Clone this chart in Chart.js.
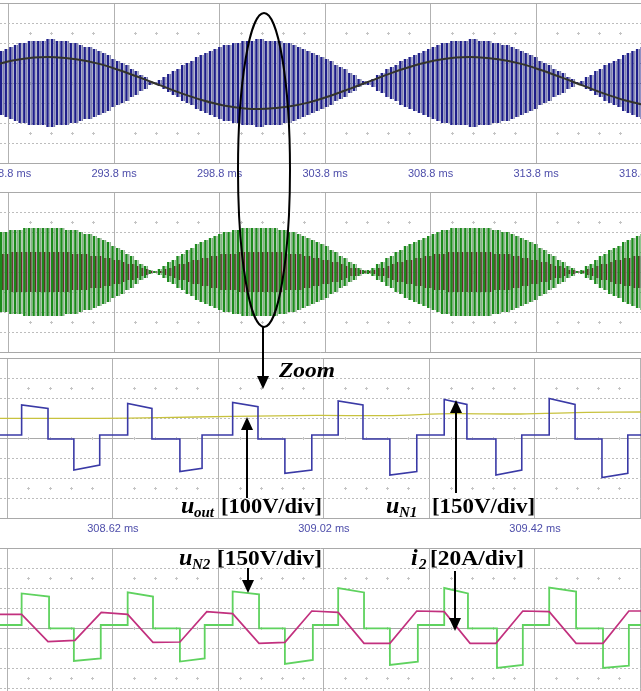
<!DOCTYPE html>
<html>
<head>
<meta charset="utf-8">
<script src="https://cdn.jsdelivr.net/npm/chart.js@4.4.0/dist/chart.umd.min.js"></script>
<style>
html, body { margin: 0; padding: 0; background: #fff; overflow: hidden; }
#wrap { position: relative; width: 641px; height: 691px; overflow: hidden; }
#wrap canvas { position: absolute; left: 0; }
#notes { position: absolute; left: 0; top: 0; }
</style>
</head>
<body>
<div id="wrap">
<canvas id="c1" width="641" height="185" style="top:0px"></canvas>
<canvas id="c2" width="641" height="166" style="top:189px"></canvas>
<canvas id="c3" width="641" height="185" style="top:355px"></canvas>
<canvas id="c4" width="641" height="166" style="top:545px"></canvas>
<svg id="notes" width="641" height="691" font-family="Liberation Serif" font-weight="bold" fill="#000">
  <ellipse cx="264" cy="170" rx="26" ry="157" fill="none" stroke="#000" stroke-width="2"/>
  <line x1="263" y1="327" x2="263" y2="378" stroke="#000" stroke-width="2"/>
  <polygon points="257,376 269,376 263,389"/>
  <text x="279" y="377" font-size="21" font-style="italic" textLength="56" lengthAdjust="spacingAndGlyphs">Zoom</text>

  <line x1="247" y1="498" x2="247" y2="428" stroke="#000" stroke-width="2"/>
  <polygon points="241,430 253,430 247,417"/>
  <text x="181" y="513" font-size="24" font-style="italic">u</text>
  <text x="194" y="517" font-size="15" font-style="italic">out</text>
  <text x="221" y="513" font-size="21" textLength="101" lengthAdjust="spacingAndGlyphs">[100V/div]</text>

  <line x1="456" y1="493" x2="456" y2="411" stroke="#000" stroke-width="2"/>
  <polygon points="450,413 462,413 456,400"/>
  <text x="386" y="513" font-size="24" font-style="italic">u</text>
  <text x="399" y="517" font-size="15" font-style="italic">N1</text>
  <text x="432" y="513" font-size="21" textLength="103" lengthAdjust="spacingAndGlyphs">[150V/div]</text>

  <line x1="248" y1="568" x2="248" y2="582" stroke="#000" stroke-width="2"/>
  <polygon points="242,580 254,580 248,593"/>
  <text x="179" y="565" font-size="24" font-style="italic">u</text>
  <text x="192" y="569" font-size="15" font-style="italic">N2</text>
  <text x="217" y="565" font-size="21" textLength="105" lengthAdjust="spacingAndGlyphs">[150V/div]</text>

  <line x1="455" y1="571" x2="455" y2="620" stroke="#000" stroke-width="2"/>
  <polygon points="449,618 461,618 455,631"/>
  <text x="411" y="565" font-size="24" font-style="italic">i</text>
  <text x="419" y="569" font-size="15" font-style="italic">2</text>
  <text x="430" y="565" font-size="21" textLength="94" lengthAdjust="spacingAndGlyphs">[20A/div]</text>
</svg>
</div>
<script>
// ---- 30 ms views (panels 1 and 2), values in divisions ----
var stripeStart = 288.45;   // ms, first carrier stripe
var stripeStep = 0.22;      // ms between stripes on the scope screen

var uN1Env = [1.6,1.7,1.8,1.9,2.0,2.0,2.1,2.1,2.1,2.1, 2.2,2.2,2.1,2.1,2.1,2.0,2.0,1.9,1.8,1.8,
  1.7,1.6,1.5,1.4,1.2,1.1,1.0,0.9,0.7,0.6, 0.4,0.3,0.1,0.05,0.15,0.3,0.45,0.6,0.7,0.9,
  1.0,1.1,1.3,1.4,1.5,1.6,1.7,1.8,1.9,1.9, 2.0,2.0,2.1,2.1,2.1,2.2,2.2,2.1,2.1,2.1,
  2.1,2.0,2.0,1.9,1.8,1.7,1.6,1.5,1.4,1.3, 1.2,1.1,0.9,0.8,0.7,0.5,0.4,0.2,0.1,0.1,
  0.2,0.4,0.5,0.7,0.8,0.9,1.1,1.2,1.3,1.4, 1.5,1.6,1.7,1.8,1.9,2.0,2.0,2.1,2.1,2.1,
  2.1,2.2,2.2,2.1,2.1,2.1,2.0,2.0,1.9,1.9, 1.8,1.7,1.6,1.5,1.4,1.3,1.1,1.0,0.9,0.7,
  0.6,0.5,0.3,0.2,0.05,0.1,0.3,0.4,0.6,0.7, 0.9,1.0,1.1,1.2,1.4,1.5,1.6,1.7,1.8];

var uN2Env = [2.0,2.0,2.1,2.1,2.1,2.2,2.2,2.2,2.2,2.2, 2.2,2.2,2.2,2.2,2.1,2.1,2.1,2.0,1.9,1.9,
  1.8,1.7,1.6,1.5,1.3,1.2,1.1,0.9,0.8,0.6, 0.4,0.3,0.1,0.05,0.15,0.3,0.5,0.6,0.8,0.9,
  1.1,1.2,1.4,1.5,1.6,1.7,1.8,1.9,2.0,2.0, 2.1,2.1,2.2,2.2,2.2,2.2,2.2,2.2,2.2,2.2,
  2.1,2.1,2.0,2.0,1.9,1.8,1.7,1.6,1.5,1.4, 1.3,1.1,1.0,0.8,0.7,0.5,0.4,0.2,0.1,0.1,
  0.2,0.4,0.5,0.7,0.8,1.0,1.1,1.3,1.4,1.5, 1.6,1.7,1.8,1.9,2.0,2.1,2.1,2.2,2.2,2.2,
  2.2,2.2,2.2,2.2,2.2,2.2,2.1,2.1,2.0,2.0, 1.9,1.8,1.7,1.6,1.5,1.4,1.2,1.1,0.9,0.8,
  0.6,0.5,0.3,0.2,0.05,0.1,0.3,0.4,0.6,0.8, 0.9,1.1,1.2,1.3,1.5,1.6,1.7,1.8,1.9];

var i2Env = [0.9,0.9,1.0,1.0,1.0,1.0,1.0,1.0,1.0,1.0, 1.0,1.0,1.0,1.0,1.0,0.9,0.9,0.9,0.9,0.8,
  0.8,0.8,0.7,0.7,0.6,0.6,0.5,0.4,0.4,0.3, 0.2,0.15,0.05,0.02,0.05,0.15,0.2,0.3,0.4,0.4,
  0.5,0.6,0.6,0.7,0.7,0.8,0.8,0.9,0.9,0.9, 0.9,1.0,1.0,1.0,1.0,1.0,1.0,1.0,1.0,1.0,
  1.0,0.9,0.9,0.9,0.9,0.8,0.8,0.7,0.7,0.6, 0.6,0.5,0.5,0.4,0.3,0.2,0.2,0.1,0.05,0.05,
  0.1,0.2,0.2,0.3,0.4,0.5,0.5,0.6,0.6,0.7, 0.7,0.8,0.8,0.9,0.9,0.9,1.0,1.0,1.0,1.0,
  1.0,1.0,1.0,1.0,1.0,1.0,0.9,0.9,0.9,0.9, 0.8,0.8,0.7,0.7,0.6,0.6,0.5,0.5,0.4,0.3,
  0.3,0.2,0.1,0.1,0.02,0.05,0.15,0.2,0.3,0.4, 0.4,0.5,0.6,0.6,0.7,0.7,0.8,0.8,0.9];

var uGridTime = [288,289,290,291,292,293,294,295,296,297,298,299,300,301,302,303,
  304,305,306,307,308,309,310,311,312,313,314,315,316,317,318,319];
var uGridVal = [0.86,1.12,1.27,1.29,1.19,0.98,0.66,0.28,-0.12,-0.52,-0.86,-1.12,-1.27,-1.29,-1.19,-0.98,
  -0.66,-0.28,0.12,0.52,0.86,1.12,1.27,1.29,1.19,0.98,0.66,0.28,-0.12,-0.52,-0.86,-1.12];

var wideGrid = [288.8, 293.8, 298.8, 303.8, 308.8, 313.8, 318.8];
var wideLabels = ['288.8 ms', '293.8 ms', '298.8 ms', '303.8 ms', '308.8 ms', '313.8 ms', '318.8 ms'];

// ---- zoomed views (panels 3 and 4) ----
var zoomGrid = [308.42, 308.62, 308.82, 309.02, 309.22, 309.42, 309.62];
var zoomLabels = ['', '308.62 ms', '', '309.02 ms', '', '309.42 ms', ''];

var n1Time = [308.406,308.447,308.447,308.497,308.497,308.546,308.546,308.595,308.595,
  308.648,308.648,308.694,308.694,308.747,308.747,308.789,308.789,
  308.847,308.847,308.895,308.895,308.946,308.946,308.997,308.997,
  309.047,309.047,309.094,309.094,309.145,309.145,309.196,309.196,
  309.248,309.248,309.291,309.291,309.346,309.346,309.395,309.395,
  309.447,309.447,309.496,309.496,309.547,309.547,309.596,309.596,309.621];
var n1Val = [0.15,0.15,1.65,1.48,-0.05,-0.05,-1.6,-1.35,0.15,
  0.15,1.73,1.48,-0.05,-0.05,-1.68,-1.52,0.15,
  0.15,1.78,1.57,-0.05,-0.05,-1.77,-1.6,0.15,
  0.15,1.85,1.65,-0.05,-0.05,-1.85,-1.68,0.15,
  0.15,1.93,1.68,-0.05,-0.05,-1.85,-1.6,0.15,
  0.15,1.98,1.68,-0.05,-0.05,-1.98,-1.77,0.15,0.15];

var outTime = [308.406,308.595,308.709,308.847,309.007,309.139,309.265,309.392,309.519,309.621];
var outVal = [0.98,0.98,1.02,1.08,1.13,1.12,1.22,1.2,1.28,1.3];

var n2Time = [308.406,308.447,308.447,308.499,308.499,308.546,308.546,308.597,308.597,
  308.648,308.648,308.696,308.696,308.747,308.747,308.794,308.794,
  308.847,308.847,308.897,308.897,308.946,308.946,308.999,308.999,
  309.047,309.047,309.096,309.096,309.145,309.145,309.198,309.198,
  309.248,309.248,309.293,309.293,309.348,309.348,309.397,309.397,
  309.447,309.447,309.498,309.498,309.549,309.549,309.598,309.598,309.621];
var n2Val = [0.15,0.15,1.73,1.57,-0.02,-0.02,-1.65,-1.52,0.15,
  0.15,1.78,1.57,-0.02,-0.02,-1.68,-1.52,0.15,
  0.15,1.83,1.68,-0.02,-0.02,-1.8,-1.6,0.15,
  0.15,2.0,1.78,-0.02,-0.02,-1.85,-1.68,0.15,
  0.15,2.0,1.73,-0.02,-0.02,-2.0,-1.85,0.15,
  0.15,2.02,1.82,-0.02,-0.02,-2.0,-1.88,0.15,0.15];

var i2Time = [308.406,308.447,308.497,308.548,308.598,308.648,308.696,308.747,308.798,308.847,308.897,308.946,308.997,
  309.047,309.096,309.145,309.196,309.248,309.297,309.346,309.397,309.447,309.498,309.549,309.598,309.621];
var i2Val = [0.68,0.68,-0.68,-0.62,0.78,0.68,-0.72,-0.70,0.82,0.72,-0.77,-0.72,0.85,
  0.78,-0.77,-0.77,0.85,0.82,-0.77,-0.77,0.85,0.82,-0.77,-0.77,0.85,0.85];

var dottedRows = [-3, -2, -1, 1, 2, 3];
var solidRows = [-4, 0, 4];

function stripes(env, shift) {
  return env.map(function (a, i) {
    return { x: stripeStart + i * stripeStep + shift, y: [-a, a] };
  });
}

function pts(time, val) {
  return time.map(function (t, i) { return { x: t, y: val[i] }; });
}

function fixedTicks(list) {
  return function (axis) {
    axis.ticks = list.map(function (v) { return { value: v }; });
  };
}

// small "+" marks of the scope screen, 5 per division
var minorMarks = {
  id: 'minorMarks',
  beforeDatasetsDraw: function (chart) {
    var xs = chart.scales.x, ys = chart.scales.y, ctx = chart.ctx;
    var tv = xs.ticks.map(function (t) { return t.value; });
    var step = tv[1] - tv[0];
    ctx.save();
    ctx.strokeStyle = '#c4c4c4';
    ctx.lineWidth = 1;
    for (var k = -1; k < tv.length; k++) {
      for (var j = 1; j < 5; j++) {
        var px = Math.round(xs.getPixelForValue(tv[0] + (k + j / 5) * step)) + 0.5;
        [2.5, 0, -2.5].forEach(function (row) {
          var py = Math.round(ys.getPixelForValue(row)) + 0.5;
          ctx.beginPath();
          ctx.moveTo(px - 1.5, py); ctx.lineTo(px + 1.5, py);
          ctx.moveTo(px, py - 1.5); ctx.lineTo(px, py + 1.5);
          ctx.stroke();
        });
      }
    }
    ctx.restore();
  }
};

function scopeOptions(min, max, grid, labels, showLabels, bottomPad) {
  return {
    responsive: false,
    animation: false,
    devicePixelRatio: 1,
    layout: { padding: { top: 3, bottom: bottomPad, left: 0, right: 0 } },
    plugins: { legend: { display: false }, tooltip: { enabled: false } },
    scales: {
      x: {
        type: 'linear', min: min, max: max, offset: false,
        afterBuildTicks: fixedTicks(grid),
        afterFit: function (axis) {
          axis.height = showLabels ? 22 : 0;
          axis.paddingLeft = 0;
          axis.paddingRight = 0;
        },
        grid: { color: '#b2b2b2', drawTicks: false, offset: false },
        border: { display: false },
        ticks: {
          display: showLabels, autoSkip: false, maxRotation: 0, padding: 4,
          color: '#4d4daa', font: { family: 'Liberation Sans', size: 11 },
          callback: function (v, i) { return labels[i]; }
        }
      },
      y: {
        min: -4, max: 4,
        afterBuildTicks: fixedTicks(dottedRows),
        afterFit: function (axis) { axis.width = 0; },
        ticks: { display: false },
        grid: { color: '#bdbdbd', drawTicks: false },
        border: { display: false, dash: [2, 2] }
      },
      yb: {
        position: 'left', min: -4, max: 4,
        afterBuildTicks: fixedTicks(solidRows),
        afterFit: function (axis) { axis.width = 0; },
        ticks: { display: false },
        grid: { color: '#a9a9a9', drawTicks: false },
        border: { display: false }
      }
    }
  };
}

var wideMin = 288.397, wideMax = 318.775;
var zoomMin = 308.406, zoomMax = 309.621;

function bars(data, color, width) {
  return { data: data, backgroundColor: color, barThickness: width, grouped: false, inflateAmount: 0 };
}

new Chart(document.getElementById('c1'), {
  type: 'bar',
  data: {
    datasets: [
      { type: 'line', data: pts(uGridTime, uGridVal), borderColor: '#34342c', borderWidth: 2,
        tension: 0.4, pointRadius: 0 },
      bars(stripes(uN1Env, 0), '#1e1e8a', 2.4),
      bars(stripes(uN1Env, 0.11), '#7e82aa', 1.3)
    ]
  },
  options: scopeOptions(wideMin, wideMax, wideGrid, wideLabels, true, 0),
  plugins: [minorMarks]
});

new Chart(document.getElementById('c2'), {
  type: 'bar',
  data: {
    datasets: [
      bars(stripes(uN2Env, 0), '#1b8a1b', 2.4),
      bars(stripes(i2Env, 0.08), '#5a3424', 1.6),
      bars(stripes(i2Env, 0.15), '#c884c0', 0.8),
      bars(stripes(uN2Env, 0.11), '#86ac86', 1.3)
    ]
  },
  options: scopeOptions(wideMin, wideMax, wideGrid, wideLabels, false, 3),
  plugins: [minorMarks]
});

new Chart(document.getElementById('c3'), {
  type: 'line',
  data: {
    datasets: [
      { data: pts(n1Time, n1Val), borderColor: '#3a3aa6', borderWidth: 1.6, pointRadius: 0, tension: 0 },
      { data: pts(outTime, outVal), borderColor: '#c8c23e', borderWidth: 1.3, pointRadius: 0, tension: 0.3 }
    ]
  },
  options: scopeOptions(zoomMin, zoomMax, zoomGrid, zoomLabels, true, 0),
  plugins: [minorMarks]
});

new Chart(document.getElementById('c4'), {
  type: 'line',
  data: {
    datasets: [
      { data: pts(i2Time, i2Val), borderColor: '#c2307e', borderWidth: 1.7, pointRadius: 0, tension: 0 },
      { data: pts(n2Time, n2Val), borderColor: '#5fd25f', borderWidth: 1.8, pointRadius: 0, tension: 0 }
    ]
  },
  options: scopeOptions(zoomMin, zoomMax, zoomGrid, zoomLabels, false, 3),
  plugins: [minorMarks]
});
</script>
</body>
</html>
